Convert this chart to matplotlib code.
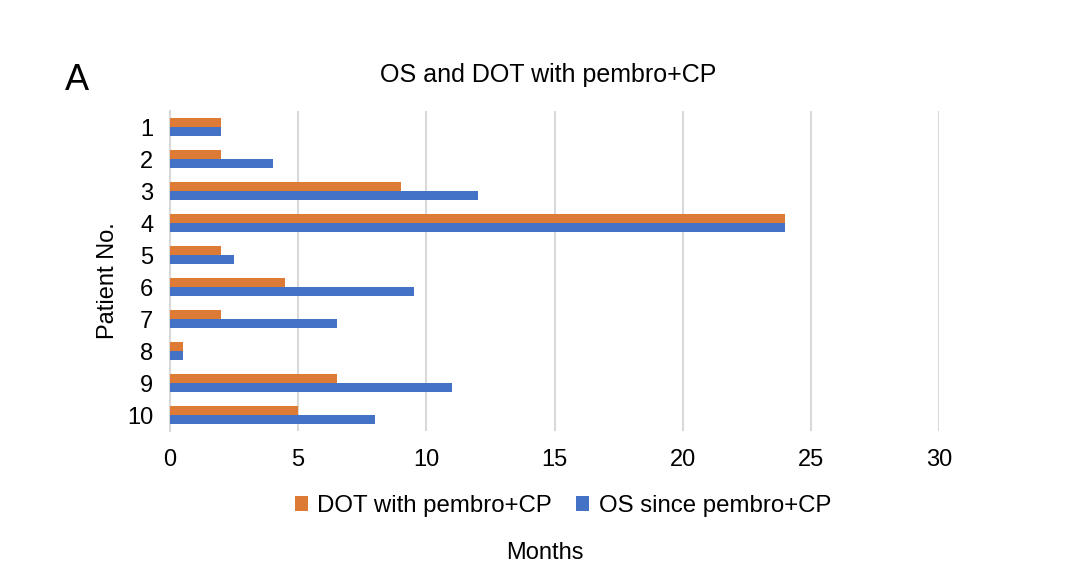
import matplotlib
matplotlib.use("Agg")
import matplotlib.pyplot as plt
import numpy as np

patients = ["1", "2", "3", "4", "5", "6", "7", "8", "9", "10"]
dot_values = [2, 2, 9, 24, 2, 4.5, 2, 0.5, 6.5, 5]
os_values = [2, 4, 12, 24, 2.5, 9.5, 6.5, 0.5, 11, 8]
x_ticks = [0, 5, 10, 15, 20, 25, 30]

plt.rcParams['font.family'] = ['Liberation Sans', 'DejaVu Sans']

fig = plt.figure(figsize=(10.8, 5.86), dpi=100)
ax = fig.add_axes([170/1080, 1 - 431/586, (939-170)/1080, 320/586])

y = np.arange(len(patients))
h = 0.27
orange = "#DD7B36"
blue = "#4472C4"
ax.barh(y - h/2, dot_values, height=h, color=orange, label="DOT with pembro+CP", zorder=3)
ax.barh(y + h/2, os_values, height=h, color=blue, label="OS since pembro+CP", zorder=3)

ax.set_xlim(0, 30)
ax.set_ylim(len(patients) - 0.5, -0.5)
ax.set_yticks(y)
ax.set_yticklabels(patients, fontsize=17)
ax.set_xticks(x_ticks)
ax.set_xticklabels([str(t) for t in x_ticks], fontsize=17)
ax.tick_params(axis='both', length=0)
ax.tick_params(axis='y', pad=12)
ax.tick_params(axis='x', pad=13)
ax.xaxis.grid(True, color="#D9D9D9", linewidth=1.5, zorder=0)
ax.set_axisbelow(True)
for s in ["top", "right", "bottom"]:
    ax.spines[s].set_visible(False)
ax.spines["left"].set_color("#D9D9D9")
ax.spines["left"].set_linewidth(1.5)

fig.text(108/1080, 1 - 281/586, "Patient No.", rotation=90, fontsize=17,
         ha="center", va="center")
fig.text(548/1080, 1 - 82/586, "OS and DOT with pembro+CP", fontsize=18,
         ha="center", va="baseline")
fig.text(77/1080, 1 - 90/586, "A", fontsize=26, ha="center", va="baseline")
fig.text(545/1080, 1 - 553/586, "Months", fontsize=17, ha="center", va="center")

fig.legend(loc="center", bbox_to_anchor=(563/1080, 1 - 506/586), ncol=2, frameon=False,
           fontsize=17.3, handlelength=0.55, handleheight=0.55, handletextpad=0.4,
           columnspacing=1.0)

fig.savefig("out.png", dpi=100, facecolor="white")
